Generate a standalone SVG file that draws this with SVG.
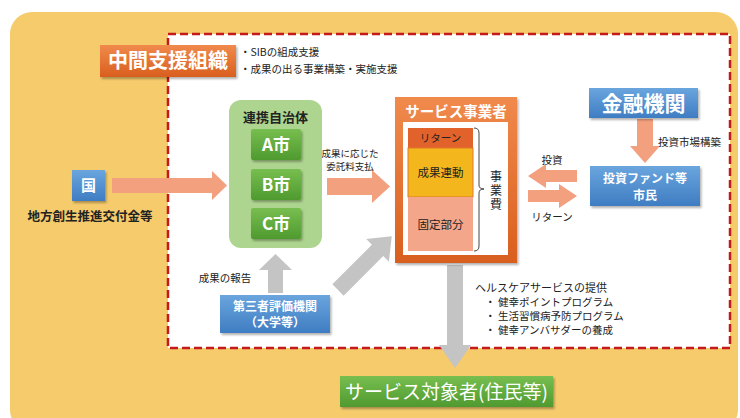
<svg xmlns="http://www.w3.org/2000/svg" width="740" height="418" viewBox="0 0 740 418">
<defs>
<linearGradient id="gOr" x1="0" y1="0" x2="0" y2="1"><stop offset="0" stop-color="#F08A4C"/><stop offset="1" stop-color="#D95F1F"/></linearGradient>
<linearGradient id="gBl" x1="0" y1="0" x2="0" y2="1"><stop offset="0" stop-color="#6AA5DE"/><stop offset="1" stop-color="#3F7DC2"/></linearGradient>
<linearGradient id="gGr" x1="0" y1="0" x2="0" y2="1"><stop offset="0" stop-color="#78BE50"/><stop offset="1" stop-color="#4F9A2F"/></linearGradient>
<filter id="sh" x="-10%" y="-10%" width="130%" height="140%"><feDropShadow dx="1.5" dy="2" stdDeviation="1.2" flood-color="#000" flood-opacity="0.3"/></filter>
<style>
text{font-family:"Noto Sans CJK JP","Noto Sans",sans-serif;fill:#222}
.w{fill:#fff;font-weight:bold}
.s{font-size:10.5px}
.c{text-anchor:middle}
.b{font-weight:bold}
.sal{fill:#F2A07E}
.gry{fill:#C4C4C4}
</style>
</defs>
<rect x="0" y="0" width="740" height="418" fill="#fff"/>
<rect x="10" y="12" width="728" height="420" rx="22" fill="#F5CB6C"/>
<rect x="168" y="34" width="562" height="314" fill="#fff" stroke="#C41A1A" stroke-width="2.5" stroke-dasharray="8 4"/>

<g id="connectors">
<polygon class="sal" points="112,178 212,178 212,171 227,185.5 212,200 212,193 112,193"/>
<polygon class="sal" points="327,178 372,178 372,170 390,186.5 372,203 372,195 327,195"/>
<polygon class="sal" points="577,170 546,170 546,164 528,176 546,188 546,182 577,182"/>
<polygon class="sal" points="528,190 559,190 559,184 577,196 559,208 559,202 528,202"/>
<polygon class="sal" points="637,119 653,119 653,146 660,146 645,163 630,146 637,146"/>
<polygon class="gry" points="268,293 283,293 283,270 292,270 275.5,254 259,270 268,270"/>
<polygon class="gry" points="447,265 463,265 463,345 471,345 455,368 439,345 447,345"/>
<polygon class="gry" transform="translate(338,290) rotate(-45)" points="0,-8 56,-8 56,-16 76,0 56,16 56,8 0,8"/>
<text class="s c" x="225" y="282">成果の報告</text>
<text class="c" x="350" y="157" font-size="9.5">成果に応じた</text>
<text class="c" x="350" y="170" font-size="9.5">委託料支払</text>
<text class="s c" x="552" y="164">投資</text>
<text class="s c" x="552" y="221">リターン</text>
<text class="s" x="658" y="146">投資市場構築</text>
</g>

<g id="chukan">
<rect x="100" y="45" width="136" height="32" fill="url(#gOr)" filter="url(#sh)"/>
<text class="w c" x="168" y="68" font-size="20">中間支援組織</text>
<text class="s" x="240" y="56">・SIBの組成支援</text>
<text class="s" x="240" y="73">・成果の出る事業構築・実施支援</text>
</g>

<g id="kuni">
<rect x="72" y="170" width="33" height="31" fill="url(#gBl)" filter="url(#sh)"/>
<text class="w c" x="88.5" y="191" font-size="15">国</text>
<text class="c b" x="90" y="221" font-size="12.5" fill="#333">地方創生推進交付金等</text>
</g>

<g id="renkei">
<rect x="229" y="100" width="93" height="148" rx="12" fill="#AED58F"/>
<text class="c b" x="275.5" y="122" font-size="13">連携自治体</text>
<rect x="251" y="129" width="50" height="31" rx="2" fill="url(#gGr)" filter="url(#sh)"/>
<text class="w c" x="276" y="151" font-size="17">A市</text>
<rect x="251" y="169" width="50" height="31" rx="2" fill="url(#gGr)" filter="url(#sh)"/>
<text class="w c" x="276" y="191" font-size="17">B市</text>
<rect x="251" y="208" width="50" height="31" rx="2" fill="url(#gGr)" filter="url(#sh)"/>
<text class="w c" x="276" y="230" font-size="17">C市</text>
</g>

<g id="service">
<rect x="395" y="97" width="122" height="166" fill="url(#gOr)" filter="url(#sh)"/>
<text class="w c" x="456" y="117" font-size="14.5">サービス事業者</text>
<rect x="403" y="122" width="105" height="133" fill="#fff"/>
<rect x="408" y="128" width="65" height="20" fill="#E2622B"/>
<rect x="408" y="148" width="65" height="49" fill="#F3B61C" stroke="#E2782B" stroke-width="1"/>
<rect x="408" y="197" width="65" height="54" fill="#F4A68A"/>
<text class="c" x="440.5" y="142" font-size="10.5">リターン</text>
<text class="c" x="440.5" y="177" font-size="11.5">成果連動</text>
<text class="c" x="440.5" y="229" font-size="11.5">固定部分</text>
<path d="M474,128 Q479,128 479,133 L479,185 Q479,189 484,189 Q479,189 479,193 L479,246 Q479,251 474,251" fill="none" stroke="#444" stroke-width="1"/>
<text x="496" y="170" font-size="12" letter-spacing="2" style="writing-mode:vertical-rl">事業費</text>
</g>

<g id="kinyu">
<rect x="589" y="88" width="109" height="30" fill="url(#gBl)" filter="url(#sh)"/>
<text class="w c" x="643.5" y="111" font-size="21">金融機関</text>
</g>

<g id="fund">
<rect x="590" y="166" width="110" height="40" fill="url(#gBl)" filter="url(#sh)"/>
<text class="w c" x="645" y="183" font-size="12">投資ファンド等</text>
<text class="w c" x="645" y="200" font-size="12">市民</text>
</g>

<g id="daisansha">
<rect x="220" y="295" width="110" height="38" fill="url(#gBl)" filter="url(#sh)"/>
<text class="w c" x="275" y="311" font-size="12">第三者評価機関</text>
<text class="w c" x="275" y="327" font-size="12">（大学等）</text>
</g>

<g id="health">
<text x="475" y="292" font-size="11">ヘルスケアサービスの提供</text>
<text x="485" y="306" font-size="10.5">・</text>
<text x="498" y="306" font-size="10.5">健幸ポイントプログラム</text>
<text x="485" y="320" font-size="10.5">・</text>
<text x="498" y="320" font-size="10.5">生活習慣病予防プログラム</text>
<text x="485" y="334" font-size="10.5">・</text>
<text x="498" y="334" font-size="10.5">健幸アンバサダーの養成</text>
</g>

<g id="taisho">
<rect x="340" y="376" width="213" height="31" fill="url(#gGr)" filter="url(#sh)"/>
<text class="w c" x="446.5" y="399" font-size="19" style="font-weight:normal">サービス対象者(住民等)</text>
</g>
</svg>
